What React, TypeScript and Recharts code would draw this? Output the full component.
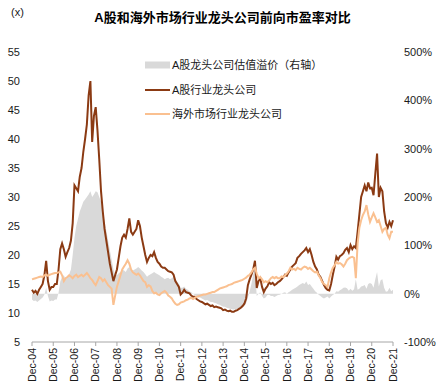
import React from "react";
import { ComposedChart, Area, Line, XAxis, YAxis } from "recharts";

// one point per month, Dec-04 .. Dec-21
const YEAR_TICKS = [
  "Dec-04", "Dec-05", "Dec-06", "Dec-07", "Dec-08", "Dec-09", "Dec-10", "Dec-11", "Dec-12",
  "Dec-13", "Dec-14", "Dec-15", "Dec-16", "Dec-17", "Dec-18", "Dec-19", "Dec-20", "Dec-21",
];

const A_SHARE_PE = [
  14.0, 13.5, 13.8, 13.3, 14.0, 14.5, 15.0, 16.5, 19.0, 15.5, 14.0, 14.5,
  14.5, 15.0, 15.0, 17.5, 21.0, 22.0, 21.0, 19.7, 20.5, 21.2, 22.5, 25.5,
  32.0, 31.5, 31.0, 33.5, 35.0, 37.8, 40.0, 42.5, 47.5, 50.0, 39.5, 44.0,
  45.5, 41.5, 36.5, 31.0, 27.5, 24.5, 22.5, 20.5, 18.5, 17.0, 15.5, 16.5,
  17.5, 19.5, 21.5, 23.0, 23.5, 23.0, 24.5, 26.3, 24.0, 23.5, 24.0, 24.5,
  26.0, 25.0, 23.0, 21.5, 20.0, 18.8, 19.5, 20.0, 19.8, 20.5, 19.5, 18.8,
  18.5, 18.0, 17.8, 17.8, 17.5, 17.2, 17.1, 17.0, 16.6, 15.5, 15.0, 14.5,
  13.2, 13.5, 14.0, 13.6, 13.5, 13.4, 13.0, 12.8, 12.8, 12.4, 12.2, 12.0,
  11.9, 11.7, 11.5, 11.6, 11.4, 11.2, 11.3, 11.0, 11.1, 11.0, 10.9, 10.8,
  10.5, 10.6, 10.4, 10.3, 10.4, 10.2, 10.2, 10.4, 10.5, 10.7, 10.9, 11.2,
  11.6, 12.5, 14.8, 15.8, 16.6, 17.5, 19.0, 14.3, 15.5, 16.0, 14.5, 13.6,
  14.2, 14.6, 15.3, 15.0, 15.2, 14.8, 15.0, 15.3, 15.5, 15.8, 16.2, 16.6,
  16.4, 17.0, 17.5, 18.0, 18.3, 18.6, 19.5, 19.8, 20.2, 20.5, 20.8, 21.2,
  20.5, 21.0, 20.0, 18.8, 18.0, 17.5, 16.6, 16.2, 15.5, 14.8, 14.3, 14.0,
  13.9, 15.0, 16.6, 18.0, 19.7, 19.2, 19.8, 20.0, 20.3, 20.9, 21.2, 20.5,
  21.7, 21.0, 21.5, 21.2, 24.0, 27.0, 30.0, 31.0, 32.0, 31.0, 32.5, 31.5,
  31.6, 30.3, 34.0, 37.5, 30.0, 31.6, 31.0, 27.5, 25.5, 24.7, 25.7, 25.0,
  26.0,
];

const OVERSEAS_PE = [
  15.8, 15.9, 16.0, 16.1, 16.2, 16.3, 16.2, 16.5, 16.6, 16.4, 16.6, 16.7,
  16.8, 16.9, 16.9, 17.0, 17.1, 16.5, 15.5, 16.0, 16.2, 16.5, 16.3, 16.0,
  16.4, 16.6, 16.2, 16.4, 16.6, 16.3, 16.6, 16.9, 16.5, 16.0, 15.7, 15.2,
  14.8, 15.5, 16.2, 16.0, 15.5, 15.8, 15.3, 14.8, 14.5, 14.2, 11.4, 13.0,
  14.5, 15.5, 16.5, 17.5, 18.0, 18.5, 19.1, 18.5, 17.5, 17.0, 16.8, 16.6,
  16.8, 16.5, 16.0, 15.5, 15.3, 14.5, 14.8, 14.6, 13.8, 13.4, 13.5, 13.2,
  13.1, 13.4, 13.6, 13.8, 13.5, 13.0, 12.8, 12.5, 12.0, 11.6, 11.4, 11.5,
  11.8, 11.9, 12.0, 12.2, 12.3, 12.5, 12.6, 12.4, 12.6, 12.8, 12.9, 13.0,
  13.1, 13.2, 13.2, 13.3, 13.4, 13.5, 13.6, 13.6, 13.8, 14.0, 14.2, 14.3,
  14.4, 14.5, 14.6, 14.8, 14.9, 15.0, 15.2, 15.3, 15.4, 15.5, 15.6, 15.7,
  15.9, 16.1, 16.4, 16.6, 17.0, 17.5, 17.8, 16.8, 16.0, 16.2, 15.8, 15.3,
  15.5, 15.3, 15.6, 16.0, 16.2, 16.0, 16.2, 16.0, 16.0, 16.3, 16.2, 16.5,
  16.8, 17.2, 17.8, 17.5, 17.6, 17.4, 17.8, 17.6, 17.5, 17.8, 18.0, 17.9,
  17.6, 17.8, 17.5, 17.2, 17.0, 17.1, 16.5, 16.0, 15.3, 15.0, 14.8, 14.5,
  16.0, 17.0, 17.8, 18.2, 18.8, 18.5, 18.6, 18.4, 18.0, 18.5, 19.1, 19.4,
  19.6, 19.7, 19.5, 16.0, 22.0, 24.7, 26.0, 26.9, 27.5, 28.6, 27.0, 25.7,
  26.5, 27.2, 26.5, 25.7, 26.0, 25.0, 24.0, 24.5, 24.7, 23.5, 22.9, 24.0,
  24.0,
];

// premium of A-share leaders, % (right axis)
const PREMIUM = [
  -12, -15, -14, -17, -14, -11, -8, -2, 12, -5, -16, -14,
  -15, -12, -12, 2, 25, 35, 38, 30, 35, 40, 50, 80,
  115, 140, 155, 170, 180, 190, 195, 200, 205, 212, 200, 205,
  212, 210, 200, 190, 170, 150, 130, 110, 90, 70, 50, 40,
  38, 42, 45, 50, 48, 45, 52, 55, 50, 48, 50, 52,
  55, 52, 48, 45, 40, 35, 38, 40, 42, 45, 42, 40,
  38, 35, 33, 30, 32, 33, 30, 32, 35, 30, 25, 20,
  12, 12, 15, 10, 8, 5, 3, 0, -3, -5, -8, -8,
  -10, -12, -14, -13, -15, -17, -17, -19, -20, -22, -23, -25,
  -27, -27, -29, -30, -31, -32, -33, -32, -31, -30, -30, -28,
  -25, -20, -8, 5, 20, 40, 50, -5, 0, 3, -5, -10,
  -8, -3, -2, -5, -5, -7, -5, -3, -2, 0, 2, 3,
  0, 3, 5, 8, 10, 12, 15, 18, 20, 22, 20, 25,
  18, 20, 15, 10, 5, 2, -2, -5, -8, -10, -8, -6,
  -10, -6, -3, 0, 5, 4, 7, 9, 12, 13, 11, 6,
  10, 6, 9, 30, 8, 10, 15, 16, 18, 10, 20, 22,
  20, 12, 30, 45, 15, 28, 30, 12, 4, 5, 12, 5,
  8,
];

const LEFT_TICKS = [5, 10, 15, 20, 25, 30, 35, 40, 45, 50, 55];
const RIGHT_TICKS = [-100, 0, 100, 200, 300, 400, 500];

const BROWN = "#8B3A13";
const PEACH = "#FAC090";
const GREY = "#D9D9D9";
const FONT = "'Liberation Sans', Arial, 'Noto Sans CJK SC', sans-serif";

const data = A_SHARE_PE.map((a, i) => ({
  m: i,
  a,
  o: OVERSEAS_PE[i],
  p: PREMIUM[i],
}));

const yearTickValues = YEAR_TICKS.map((_, i) => i * 12);

function YearTick({ x, y, payload }: any) {
  return (
    <g transform={`translate(${x},${y})`}>
      <text
        transform="rotate(-90)"
        textAnchor="end"
        dy="0.35em"
        fontSize={10.5}
        fill="#1a1a1a"
        fontFamily={FONT}
      >
        {YEAR_TICKS[Math.round(payload.value / 12)]}
      </text>
    </g>
  );
}

function ChartLegend() {
  const textProps = {
    x: 27,
    fontSize: 11,
    fill: "#1a1a1a",
    fontFamily: FONT,
    dominantBaseline: "central" as const,
  };
  return (
    <svg width={200} height={72} style={{ position: "absolute", top: 53, left: 145 }}>
      <rect x={0} y={8.5} width={25} height={7} fill={GREY} />
      <text {...textProps} y={12}>A股龙头公司估值溢价（右轴）</text>
      <line x1={0} x2={25} y1={37} y2={37} stroke={BROWN} strokeWidth={2} />
      <text {...textProps} y={37}>A股行业龙头公司</text>
      <line x1={0} x2={25} y1={61} y2={61} stroke={PEACH} strokeWidth={2} />
      <text {...textProps} y={61}>海外市场行业龙头公司</text>
    </svg>
  );
}

export default function App() {
  return (
    <div
      style={{
        position: "absolute",
        left: 0,
        top: 0,
        width: 439,
        height: 391,
        background: "#fff",
        fontFamily: FONT,
      }}
    >
      <ComposedChart
        width={439}
        height={391}
        data={data}
        margin={{ top: 52, right: 0, bottom: 0, left: 0 }}
      >
        <XAxis
          dataKey="m"
          type="number"
          domain={[0, 204]}
          ticks={yearTickValues}
          interval={0}
          tick={<YearTick />}
          tickSize={4}
          tickMargin={2}
          height={49}
          axisLine={{ stroke: "#A6A6A6" }}
          tickLine={{ stroke: "#A6A6A6" }}
        />
        <YAxis
          yAxisId="left"
          domain={[5, 55]}
          ticks={LEFT_TICKS}
          interval={0}
          width={32}
          axisLine={false}
          tickLine={false}
          tickSize={6}
          tickMargin={6}
          tick={{ fontSize: 11, fill: "#1a1a1a", fontFamily: FONT }}
        />
        <YAxis
          yAxisId="right"
          orientation="right"
          domain={[-100, 500]}
          ticks={RIGHT_TICKS}
          interval={0}
          width={46}
          axisLine={false}
          tickLine={false}
          tickSize={6}
          tickMargin={5}
          tickFormatter={(v: number) => `${v}%`}
          tick={{ fontSize: 11, fill: "#1a1a1a", fontFamily: FONT, textAnchor: "start" }}
        />
        <Area
          yAxisId="right"
          type="linear"
          dataKey="p"
          baseValue={0}
          fill={GREY}
          fillOpacity={1}
          stroke="none"
          isAnimationActive={false}
        />
        <Line
          yAxisId="left"
          type="linear"
          dataKey="a"
          stroke={BROWN}
          strokeWidth={2}
          dot={false}
          isAnimationActive={false}
        />
        <Line
          yAxisId="left"
          type="linear"
          dataKey="o"
          stroke={PEACH}
          strokeWidth={2}
          dot={false}
          isAnimationActive={false}
        />
      </ComposedChart>
      <div
        style={{
          position: "absolute",
          top: 7,
          left: 3,
          width: 439,
          textAlign: "center",
          fontSize: 13,
          fontWeight: "bold",
          color: "#000",
        }}
      >
        A股和海外市场行业龙头公司前向市盈率对比
      </div>
      <div style={{ position: "absolute", top: 6, left: 11, fontSize: 11, color: "#1a1a1a" }}>
        (x)
      </div>
      <ChartLegend />
    </div>
  );
}
